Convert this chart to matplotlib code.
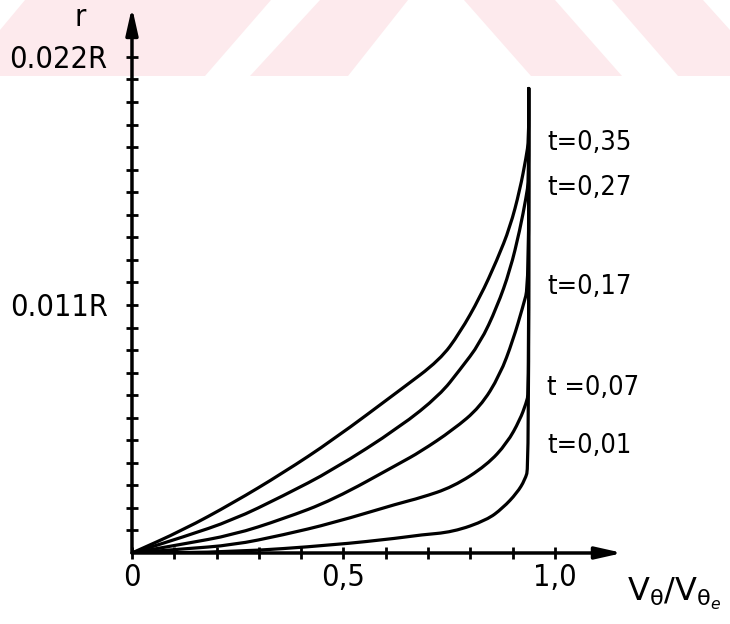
import os
import matplotlib
matplotlib.use("Agg")
import matplotlib.pyplot as plt
from matplotlib.font_manager import FontProperties, fontManager
from matplotlib.patches import Polygon, PathPatch
from matplotlib.path import Path

# r is given in units of 0.001 R, x is V_theta / V_theta_e
X_035 = [0, 0.121, 0.239, 0.357, 0.475, 0.634, 0.728, 0.775, 0.823, 0.863, 0.894, 0.917, 0.932, 0.938]
R_035 = [0, 1.02, 2.22, 3.55, 5.01, 7.23, 8.56, 9.76, 11.35, 12.99, 14.46, 16.10, 17.56, 18.32]
X_027 = [0, 0.121, 0.239, 0.357, 0.475, 0.634, 0.728, 0.775, 0.823, 0.863, 0.894, 0.917, 0.932, 0.938]
R_027 = [0, 0.71, 1.46, 2.53, 3.68, 5.59, 7.01, 8.12, 9.31, 10.91, 12.55, 14.32, 15.79, 16.54]
X_017 = [0, 0.121, 0.239, 0.357, 0.475, 0.634, 0.681, 0.759, 0.823, 0.870, 0.901, 0.924, 0.938]
R_017 = [0, 0.40, 0.80, 1.51, 2.35, 3.99, 4.48, 5.46, 6.47, 7.89, 9.45, 10.91, 11.89]
X_007 = [0, 0.121, 0.239, 0.357, 0.475, 0.634, 0.681, 0.759, 0.839, 0.887, 0.917, 0.932, 0.938]
R_007 = [0, 0.18, 0.35, 0.80, 1.33, 2.22, 2.44, 2.93, 3.90, 4.88, 5.90, 6.65, 7.10]
X_001 = [0, 0.239, 0.475, 0.634, 0.681, 0.759, 0.839, 0.877, 0.910, 0.929, 0.938]
R_001 = [0, 0.04, 0.35, 0.67, 0.80, 0.93, 1.46, 2.00, 2.66, 3.24, 3.81]

# common vertical branch near the edge
X_EDGE = 0.938
R_EDGE = 20.6

T_LABELS = ["t=0,35", "t=0,27", "t=0,17", "t =0,07", "t=0,01"]
X_TICKS = [0, 0.1, 0.2, 0.3, 0.4, 0.5, 0.6, 0.7, 0.8, 0.9, 1.0]
X_TICKLABELS = ["0", "", "", "", "", "0,5", "", "", "", "", "1,0"]
Y_TICKS = list(range(1, 23))
Y_TICKLABELS = ["0.011R" if v == 11 else "0.022R" if v == 22 else "" for v in Y_TICKS]

curves = [(X_035, R_035), (X_027, R_027), (X_017, R_017), (X_007, R_007), (X_001, R_001)]
label_r = [18.2, 16.2, 11.8, 7.3, 4.75]


def pick_font():
    files = {os.path.basename(f.fname): f.fname for f in fontManager.ttflist}
    if "DejaVuSansCondensed.ttf" in files:
        return files["DejaVuSansCondensed.ttf"], "cond"
    if "LiberationSansNarrow-Regular.ttf" in files:
        return files["LiberationSansNarrow-Regular.ttf"], "narrow"
    return None, "plain"


fname, kind = pick_font()
sizes = {"cond": (19.5, 22, 22), "narrow": (21, 24, 24), "plain": (16, 17, 18)}[kind]


def fp(size):
    if fname:
        return FontProperties(fname=fname, size=size)
    return FontProperties(family="DejaVu Sans", size=size)


def smooth_path(xs, ys):
    # quadratic bezier through the midpoints, the read points act as control points
    pts = list(zip(xs, ys))
    verts = [pts[0]]
    codes = [Path.MOVETO]
    mid = lambda a, b: ((a[0] + b[0]) / 2, (a[1] + b[1]) / 2)
    verts.append(mid(pts[0], pts[1]))
    codes.append(Path.LINETO)
    for i in range(1, len(pts) - 1):
        verts += [pts[i], mid(pts[i], pts[i + 1])]
        codes += [Path.CURVE3, Path.CURVE3]
    verts.append(pts[-1])
    codes.append(Path.LINETO)
    return Path(verts, codes)


fig = plt.figure(figsize=(7.30, 6.24), dpi=100)

# background layer in pixel coordinates (pink watermark stripes at the top)
bg = fig.add_axes([0, 0, 1, 1], zorder=-1)
bg.set_xlim(0, 730)
bg.set_ylim(624, 0)
bg.axis("off")
pink = "#fdeaed"
for pts in [[(0, 30), (25, 0), (271, 0), (205, 76), (0, 76)],
            [(320, 0), (408, 0), (348, 76), (250, 76)],
            [(464, 0), (555, 0), (622, 76), (531, 76)],
            [(612, 0), (703, 0), (730, 30), (730, 76), (678, 76)]]:
    bg.add_patch(Polygon(pts, closed=True, facecolor=pink, edgecolor="none"))
bg.text(80, 18, "r", ha="center", va="center", fontproperties=fp(sizes[1]), fontweight="bold")

ax = fig.add_axes([0.1808, 0.1138, 0.6953, 0.8853])
ax.patch.set_alpha(0)
ax.set_xlim(0, 1.2)
ax.set_ylim(0, 24.5)
for s in ax.spines.values():
    s.set_visible(False)

for (xs, rs), lab, ly in zip(curves, T_LABELS, label_r):
    p = smooth_path(list(xs) + [X_EDGE], list(rs) + [R_EDGE])
    ax.add_patch(PathPatch(p, facecolor="none", edgecolor="black", lw=2.3,
                           joinstyle="round", capstyle="round"))
    ax.text(0.981, ly, lab, ha="left", va="center", fontproperties=fp(sizes[0]))

# axes drawn as arrows
arrow = dict(arrowstyle="-|>,head_length=0.8,head_width=0.18", lw=2.5, color="black",
             shrinkA=0, shrinkB=0, mutation_scale=20)
ax.annotate("", xy=(0, 24.2), xytext=(0, 0), arrowprops=arrow, annotation_clip=False)
ax.annotate("", xy=(1.16, 0), xytext=(0, 0), arrowprops=arrow, annotation_clip=False)

ax.set_xticks(X_TICKS, labels=X_TICKLABELS)
ax.set_yticks(Y_TICKS, labels=Y_TICKLABELS)
ax.tick_params(axis="both", direction="inout", length=9, width=2, color="black")
ax.tick_params(axis="x", pad=3)
ax.tick_params(axis="y", pad=13)
for lbl in ax.get_xticklabels() + ax.get_yticklabels():
    lbl.set_fontproperties(fp(sizes[2]))

plt.rcParams["mathtext.fontset"] = "dejavusans"
ax.text(1.17, -1.0, r"$\mathrm{V}_{\mathrm{θ}}/\mathrm{V}_{\mathrm{θ}_e}$", ha="left", va="top", fontsize=23)

fig.savefig("out.png", dpi=100)
